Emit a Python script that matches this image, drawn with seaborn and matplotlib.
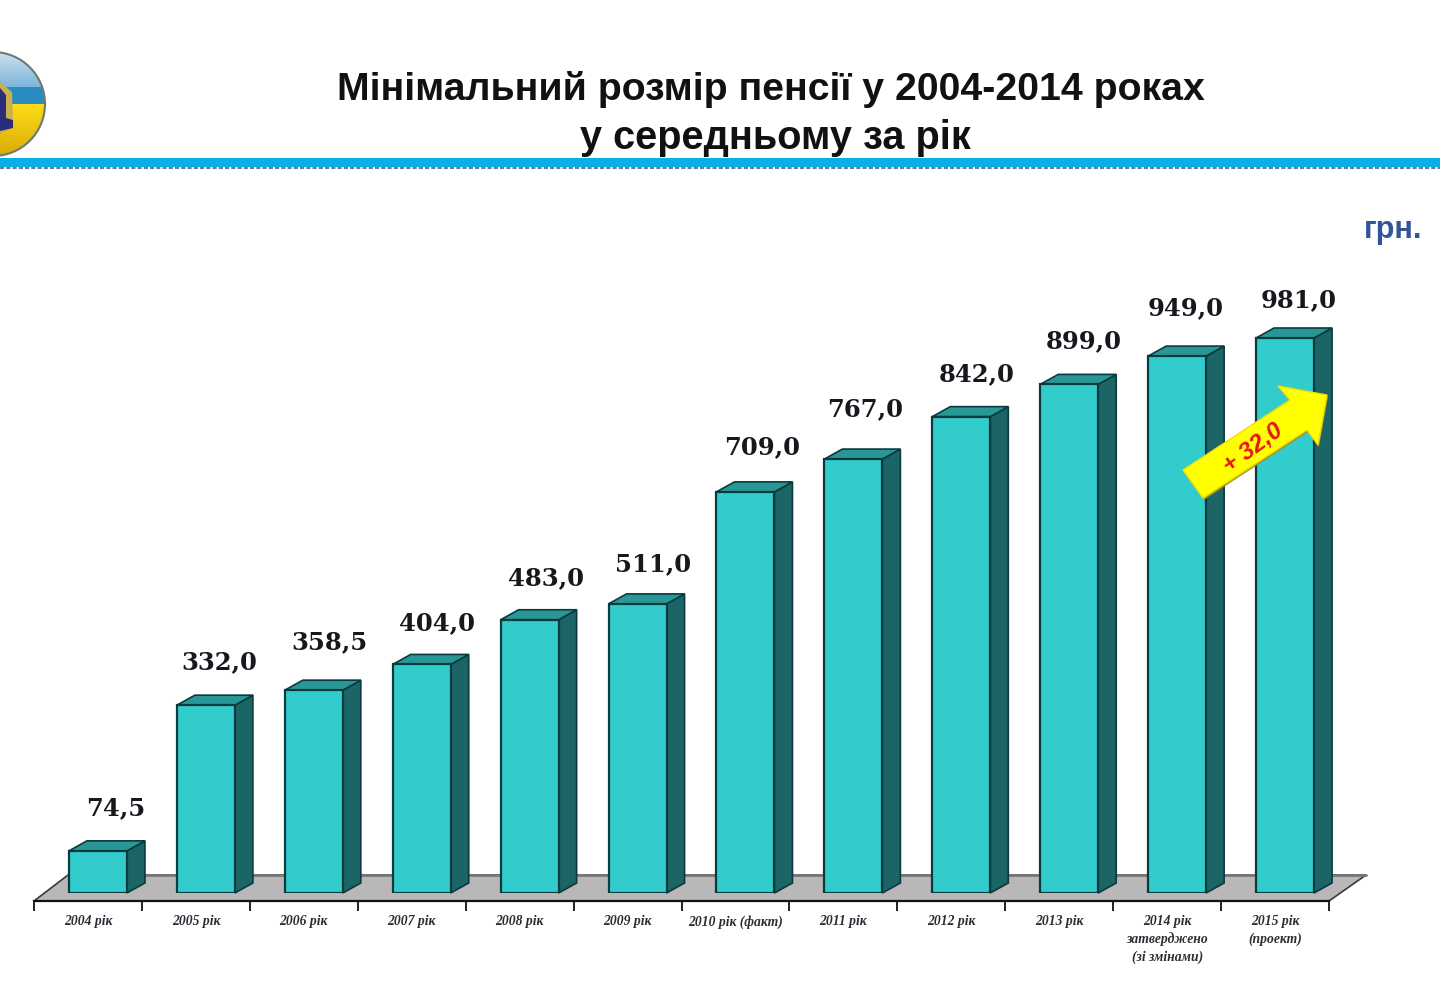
import matplotlib
matplotlib.use("Agg")
import matplotlib.pyplot as plt
from matplotlib.patches import Polygon, Circle, Rectangle
import numpy as np
import pandas as pd
import seaborn as sns

# ---- data ----
categories = ["2004 рік", "2005 рік", "2006 рік", "2007 рік", "2008 рік", "2009 рік",
              "2010 рік (факт)", "2011 рік", "2012 рік", "2013 рік",
              "2014 рік\nзатверджено\n(зі змінами)", "2015 рік\n(проект)"]
values = [74.5, 332.0, 358.5, 404.0, 483.0, 511.0, 709.0, 767.0, 842.0, 899.0, 949.0, 981.0]
title_line1 = "Мінімальний розмір пенсії у 2004-2014 роках"
title_line2 = "у середньому за рік"
unit_label = "грн."
delta_label = "+ 32,0"

# ---- layout ----
W, H = 1440, 1000
PX_PER_UNIT = 555 / 981
DEPTH_X, DEPTH_Y = 18, 10
label_nudge_x = [18, 13, 16, 15, 16, 16, 17, 12, 15, 15, 9, 14]
label_nudge_y = [43, 43, 48, 41, 42, 40, 45, 50, 42, 43, 48, 38]

FRONT, SIDE, TOP, EDGE = "#33CCCC", "#1B6566", "#2A9797", "#0A3A3E"
SERIF = ["DejaVu Serif"]
LABEL_SERIF = ["Liberation Serif", "DejaVu Serif"]
SANS = ["Liberation Sans", "DejaVu Sans"]

sns.set_theme(style="white")
plt.rcParams["font.family"] = SANS

fig = plt.figure(figsize=(W / 100, H / 100), dpi=100, facecolor="white")


def px_axes(left, top, right, bottom, **kw):
    return fig.add_axes([left / W, 1 - bottom / H, (right - left) / W, (bottom - top) / H], **kw)


# background decoration layer, in pixel coordinates
bg = fig.add_axes([0, 0, 1, 1], zorder=0)
bg.set_xlim(0, W)
bg.set_ylim(H, 0)
bg.axis("off")
bg.add_patch(Rectangle((0, 158), W, 9, color="#0AAEE8", lw=0))
bg.plot([0, W], [168, 168], color="#6f7f85", lw=1.5, ls=(0, (2, 1)))

# logo
disc = Circle((-7, 104), 52, fc="none", ec="#6d7a70", lw=1.5, zorder=5)
bg.add_patch(disc)
grad = np.linspace(0, 1, 64)[:, None]
sky0, sky1 = np.array([0.84, 0.89, 0.93]), np.array([0.48, 0.71, 0.86])
sky = (sky0 + (sky1 - sky0) * grad)[:, None, :]
im = bg.imshow(sky, extent=(-60, 60, 87, 50), aspect="auto", zorder=1)
im.set_clip_path(disc)
gold0, gold1 = np.array([0.99, 0.86, 0.10]), np.array([0.85, 0.66, 0.02])
gold = (gold0 + (gold1 - gold0) * grad)[:, None, :]
im2 = bg.imshow(gold, extent=(-60, 60, 160, 104), aspect="auto", zorder=1)
im2.set_clip_path(disc)
band = Rectangle((-60, 87), 120, 17, fc="#2B8CC2", lw=0, zorder=2)
bg.add_patch(band)
band.set_clip_path(disc)
bg.add_patch(Polygon([(0, 82), (12, 92), (13, 118), (8, 130), (0, 134)], fc="#C9B04A", lw=0, zorder=3))
bg.add_patch(Polygon([(0, 88), (6, 95), (6, 118), (13, 120), (13, 128), (0, 131)], fc="#2B2C7A", lw=0, zorder=4))
bg.set_xlim(0, W)
bg.set_ylim(H, 0)

# floor
bg.add_patch(Polygon([(34, 901), (68, 875), (1366, 875), (1329, 901)],
                     fc="#B9B7B7", ec="#3a3a3a", lw=1.2, zorder=2))
bg.plot([68, 1366], [875, 875], color="#77777a", lw=2, zorder=3)

# bars through seaborn
ax = px_axes(44, 250, 1339, 893, zorder=2)
ax.patch.set_alpha(0)
df = pd.DataFrame({"category": categories, "value": values})
sns.barplot(data=df, x="category", y="value", order=categories, ax=ax, color=FRONT,
            saturation=1, width=58 / 107.9, edgecolor=EDGE, linewidth=1.6, zorder=4)
ax.set_xlim(-0.5, 11.5)
ax.set_ylim(0, 643 / PX_PER_UNIT)
ax.axis("off")

ddx, ddy = DEPTH_X / 107.9, DEPTH_Y / PX_PER_UNIT
for bar, v, nx, ny in zip(list(ax.patches), values, label_nudge_x, label_nudge_y):
    x0, w = bar.get_x(), bar.get_width()
    x1 = x0 + w
    ax.add_patch(Polygon([(x1, 0), (x1 + ddx, ddy), (x1 + ddx, v + ddy), (x1, v)],
                         fc=SIDE, ec=EDGE, lw=1.2, zorder=3, clip_on=False))
    ax.add_patch(Polygon([(x0, v), (x0 + ddx, v + ddy), (x1 + ddx, v + ddy), (x1, v)],
                         fc=TOP, ec=EDGE, lw=1.2, zorder=3, clip_on=False))
    ax.annotate(f"{v:.1f}".replace(".", ","), (x0 + w / 2, v), xytext=(nx * 0.72, ny * 0.72),
                textcoords="offset points", ha="center", va="center", fontsize=17.5,
                fontweight="bold", family=SERIF, color="#15191e")

# category axis
ax2 = px_axes(34, 880, 1329, 901, zorder=1)
ax2.patch.set_alpha(0)
ax2.set_xlim(-0.5, 11.5)
ax2.set_ylim(0, 1)
for s in ("top", "left", "right"):
    ax2.spines[s].set_visible(False)
ax2.spines["bottom"].set_color("#111111")
ax2.spines["bottom"].set_linewidth(1.6)
ax2.set_yticks([])
ax2.set_xticks(np.arange(-0.5, 12, 1))
ax2.set_xticklabels([])
ax2.set_xticks(np.arange(len(categories)), labels=categories, minor=True)
ax2.tick_params(axis="x", which="major", length=7, width=1.3, color="#111111", bottom=True)
ax2.tick_params(axis="x", which="minor", length=0, pad=10, bottom=True)
for t in ax2.get_xticklabels(minor=True):
    t.set_fontfamily(LABEL_SERIF)
    t.set_fontsize(9.8)
    t.set_fontweight("bold")
    t.set_fontstyle("italic")
    t.set_color("#2a2e34")
    t.set_linespacing(1.4)
    t.set_va("top")
    t.set_x(t.get_position()[0])

# foreground: text and arrow
fg = fig.add_axes([0, 0, 1, 1], zorder=5)
fg.patch.set_alpha(0)
fg.set_xlim(0, W)
fg.set_ylim(H, 0)
fg.axis("off")
fg.text(771, 90, title_line1, ha="center", va="center", fontsize=28.3, fontweight="bold", color="#111111")
fg.text(775, 138, title_line2, ha="center", va="center", fontsize=28.6, fontweight="bold", color="#111111")
fg.text(1393, 230, unit_label, ha="center", va="center", fontsize=22, fontweight="bold", color="#2F5597")

arrow = [(1183, 470), (1203, 498), (1307, 430), (1318, 445), (1327, 395), (1278, 386), (1290, 400)]
fg.add_patch(Polygon([(x + 1, y + 2) for x, y in arrow], fc="#A8901C", lw=0, alpha=0.9))
fg.add_patch(Polygon(arrow, fc="#FFFF00", ec="#F2E000", lw=1))
fg.text(1253, 448, delta_label, ha="center", va="center", rotation=36, rotation_mode="anchor",
        fontsize=17.5, fontweight="bold", fontstyle="italic", color="#E8141C")

fig.savefig("out.png", dpi=100, facecolor="white")
